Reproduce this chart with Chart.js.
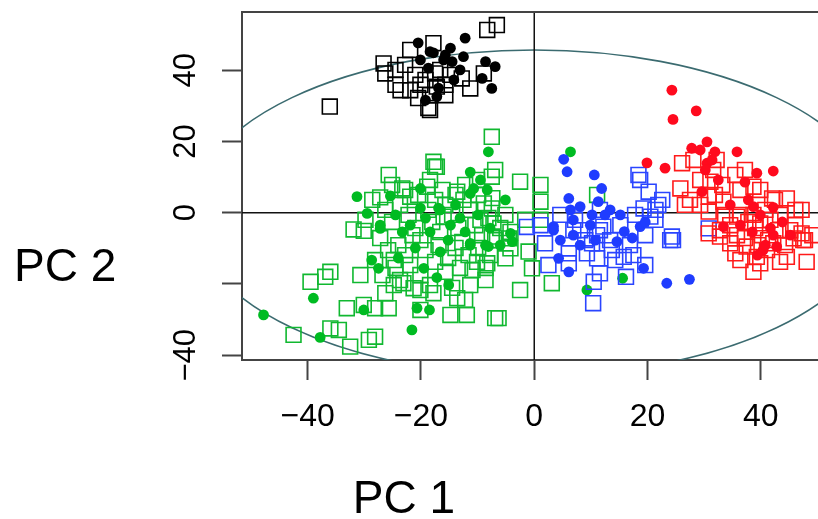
<!DOCTYPE html>
<html>
<head>
<meta charset="utf-8">
<script src="https://cdn.jsdelivr.net/npm/chart.js@4.4.1/dist/chart.umd.min.js"></script>
<style>
  body { margin: 0; background: #fff; }
  canvas { display: block; }
</style>
</head>
<body>
<canvas id="pca" width="818" height="519"></canvas>
<script>
// PC1 / PC2 scores
var xTicks = [-40, -20, 0, 20, 40];
var yTicks = [-40, -20, 0, 20, 40];
var yTickLabels = [40, 20, 0, -40];

var blackSquares = [[-36.1,29.8],[-26.6,41.9],[-26.3,39.1],[-23.6,34.4],[-21.9,45.7],[-20.5,32.2],[-18.7,29.4],[-17.8,47.6],[-8.3,51.3],[-6.6,52.7],[-8.9,39.1],[-12.8,37.7],[-11.3,34.9],[-15.7,33.0],[-17.5,39.1],[-18.4,28.8],[-17.2,35.4],[-24.5,40.1],[-22.8,41.5],[-21.0,38.7],[-19.2,37.3],[-16.6,40.1],[-20.1,35.9],[-21.9,34.4],[-18.4,33.0],[-24.5,35.9],[-15.7,35.9],[-14.8,38.7]];
var blackCircles = [[-20.5,47.7],[-18.4,45.2],[-12.2,49.0],[-14.8,46.2],[-17.8,44.9],[-12.5,43.8],[-14.5,42.4],[-16.0,42.9],[-8.6,42.4],[-6.9,41.0],[-9.2,37.7],[-14.2,37.3],[-7.5,34.9],[-17.2,32.6],[-20.1,42.9],[-18.7,40.6],[-15.7,44.3],[-13.1,40.1],[-16.9,35.0],[-19.2,31.6]];

var greenSquares = [[-25.7,10.6],[-27.2,4.3],[-23.3,6.8],[-17.8,14.3],[-17.5,12.9],[-18.9,7.3],[-21.9,4.5],[-31.9,-4.7],[-30.1,-5.1],
  [-7.5,21.3],[-17.2,12.9],[-6.9,12.0],[-7.5,10.1],[-2.5,8.7],[1.1,7.8],[1.1,3.1],[-10.1,9.2],[-13.6,5.9],[-17.5,3.6],[-8.9,2.6],[-7.5,1.2],[-12.5,3.6],[-1.6,-2.0],[-16.0,-1.1],[-9.5,-2.0],[-7.2,-3.0],[1.1,-2.0],[11.1,5.0],
  [-1.0,-10.9],[-0.4,-15.6],[3.1,-19.8],[-2.5,-21.7],[-6.9,-29.6],[-6.3,-29.6],[-8.6,-18.9],[-11.9,-28.7],[-14.8,-28.7],[-13.6,-24.0],[-12.2,-24.5],[-5.1,-12.8],[-4.2,-10.0],[-4.5,-7.2],[-8.3,-14.2],[-10.1,-13.8],[-7.5,-6.7],[-17.8,-22.6],
  [-39.5,-19.4],[-36.9,-18.0],[-36.0,-16.6],[-30.7,-17.5],[-42.5,-34.3],[-34.5,-32.9],[-36.0,-32.5],[-32.5,-37.6],[-29.2,-35.7],[-28.1,-34.8],[-33.1,-26.8],[-30.1,-25.9],[-28.1,-26.8],[-25.7,-26.8],[-26.3,-22.6],[-24.8,-20.3],[-23.1,-19.8],[-21.3,-21.2],[-20.1,-21.7],[-20.1,-27.3],[-24.8,-13.3],
  [-28.6,3.6],[-26.3,0.8],[-25.1,-2.6],[-23.7,2.2],[-22.2,-0.6],[-21.0,-4.3],[-20.1,-7.7],[-18.7,0.8],[-18.0,-2.6],[-16.6,-5.4],[-15.7,2.2],[-14.5,-0.6],[-13.4,-4.3],[-12.7,-8.2],[-11.3,0.8],[-10.4,-3.5],[-9.2,-6.3],[-8.1,-1.5],[-6.9,-7.7],[-6.0,-4.3],
  [-24.0,-9.1],[-22.8,-11.9],[-21.5,-6.3],[-19.2,-10.5],[-16.9,-9.1],[-15.2,-12.7],[-13.9,-9.9],[-11.6,-11.9],[-9.9,-9.9],[-7.8,-11.9],[-27.2,-7.1],[-25.8,-10.5],[-29.8,-2.0],[-28.1,-13.3],[-24.5,-15.5],[-21.9,-14.7],[-17.5,-13.8],[-15.7,-16.6],[-13.1,-15.5],[-10.9,-16.1],[-8.6,-15.5],
  [-25.1,7.8],[-22.8,6.4],[-20.5,5.0],[-18.4,9.2],[-16.2,6.4],[-13.9,5.0],[-12.2,7.8],[-9.9,5.0],[-7.4,4.1],[-5.1,-0.6],[-4.2,-5.4],[-20.1,-17.5],[-18.4,-20.3],[-11.3,-20.3],[-14.5,-21.1],[-23.7,-18.9],[-26.8,-17.5]];
var greenCircles = [[-31.3,4.5],[-29.5,-0.2],[-20.1,6.8],[-27.2,-4.4],
  [-8.1,17.1],[-10.7,6.8],[-8.3,6.4],[-11.3,5.4],[-16.6,0.8],[-4.2,-5.8],[6.4,17.1],
  [-15.1,-20.3],[-17.2,-18.2],[-18.5,-27.3],[-3.9,-8.1],[-8.1,-9.5],[-11.3,-8.6],[9.3,-21.7],[15.6,-18.4],
  [-47.8,-28.7],[-39.0,-24.0],[-37.8,-35.0],[-30.1,-27.3],[-21.6,-32.9],[-20.7,-26.8],[-27.5,-15.6],[-28.7,-13.3],[-19.5,-15.6],
  [-24.5,-0.6],[-21.9,-3.5],[-19.2,-1.5],[-16.9,1.3],[-14.8,-3.5],[-12.2,-5.4],[-9.9,-0.6],[-7.8,-4.3],[-13.9,2.2],[-16.6,-11.0],[-21.0,-9.9],[-23.3,-5.4],[-11.3,-9.1],[-8.6,-9.1],[-18.4,-5.4],[-20.1,1.3],[-13.1,-1.5],[-24.0,-12.7],[-15.2,-7.7],[-6.0,-9.1],[-5.1,3.6],[-9.5,9.2],[-11.3,11.4],[-25.4,4.7],[-27.2,-3.5]];

var blueSquares = [[-1.3,-4.0],[6.9,-4.9],[12.2,-3.9],[11.1,-6.3],[18.4,10.6],[20.2,5.9],[19.3,1.2],[21.9,2.2],[20.5,-1.1],[24.3,-6.7],[30.8,-4.4],[1.9,-8.6],[2.5,-14.7],[6.1,-11.4],[6.1,-14.2],[9.3,-11.4],[10.2,-8.6],[11.6,-17.0],[10.5,-19.4],[10.4,-25.4],[11.1,-12.8],[13.7,-10.5],[15.8,-12.4],[16.2,-18.0],[24.5,-7.7],[19.6,-14.7],[17.5,-11.9],
  [1.1,-3.5],[4.6,-0.6],[7.2,-2.0],[9.0,-7.7],[11.6,-4.9],[13.4,-7.7],[15.2,-3.5],[17.8,-0.6],[19.6,-6.3],[21.4,0.8],[22.6,3.6],[24.0,-7.7],[18.7,9.2],[21.4,-2.0],[16.9,-9.1],[14.3,-13.3],[11.6,0.8],[8.1,-4.9]];
var blueCircles = [[5.2,15.0],[5.8,11.5],[10.6,10.6],[11.9,6.8],[6.1,4.0],[11.3,3.1],[8.1,1.7],[6.4,0.8],[13.4,0.8],[10.2,-0.6],[3.4,-3.9],[6.9,-2.0],[15.9,-5.3],[18.7,-3.9],[4.3,-12.8],[6.1,-16.6],[6.9,-6.3],[14.6,-8.1],[3.4,-4.9],[23.4,-19.8],[27.4,-18.7],[19.3,-15.6],
  [9.9,-3.5],[12.5,-0.6],[10.8,-7.7],[15.2,-0.6],[17.3,-7.1],[19.6,-2.6],[8.1,-9.1],[4.6,-7.7]];

var redSquares = [[26.1,13.9],[28.1,14.8],[32.2,14.8],[31.6,12.0],[35.5,10.6],[37.2,12.0],[38.7,7.3],[25.8,6.8],[31.1,8.7],[26.6,2.2],[30.8,4.5],[33.4,3.1],[42.0,4.0],[44.6,4.0],[47.2,0.8],[30.8,0.3],[35.8,-1.1],[38.7,-0.6],[39.9,-3.0],[45.2,-4.9],[47.2,-5.8],[32.8,-4.9],[35.8,-6.3],[30.8,-5.8],[32.8,-6.7],[35.5,-11.4],[36.4,-13.3],[38.7,-16.6],[39.3,-12.4],[41.1,-10.5],[43.4,-13.8],[44.6,-12.4],[48.1,-13.8],[47.5,-7.7],[45.8,-7.2],[37.5,-9.5],[42.2,-8.6],[34.6,-8.6],[39.9,-14.2],
  [36.4,-0.6],[37.8,-2.6],[39.0,-4.3],[40.2,-6.3],[41.7,-2.0],[43.1,-4.9],[37.2,-7.1],[39.5,-9.1],[41.3,-7.7],[44.3,-9.1],[46.1,-3.5],[43.4,-0.6],[40.8,0.8],[33.7,-0.6],[34.6,-3.5],[31.9,5.0],[29.3,2.2],[27.5,3.6],[29.3,9.2],[33.2,7.8],[36.4,6.4],[39.9,6.4],[42.5,3.6],[46.1,0.8],[47.8,-7.7],[49.1,-6.3]];
var redCircles = [[24.3,34.4],[28.6,28.6],[24.5,26.2],[27.8,18.1],[30.5,19.9],[31.9,17.1],[35.8,17.1],[19.9,14.0],[23.1,12.5],[30.5,13.9],[30.2,12.0],[39.3,11.1],[42.2,11.7],[29.6,5.9],[38.7,1.7],[42.2,1.5],[33.4,-3.9],[42.2,-6.3],[40.4,-10.5],[42.8,-9.5],
  [37.8,3.6],[39.9,-0.6],[41.7,-4.3],[38.5,-5.4],[43.8,-2.6],[36.4,-3.5],[40.8,-9.1],[39.4,-11.9],[45.2,-6.3],[34.6,2.2],[32.5,9.2],[31.4,14.8],[29.3,17.6],[37.2,8.6]];

// confidence ellipse half-axes (PC1, PC2)
var ellipseAxes = [60.5, 45.7];

var fontFamily = '"Liberation Sans", Arial, sans-serif';

function toPoints(arr) {
  return arr.map(function (p) { return { x: p[0], y: p[1] }; });
}

function squares(label, arr, color) {
  return {
    label: label, data: toPoints(arr),
    pointStyle: 'rect', pointRadius: 10.5,
    backgroundColor: 'rgba(0,0,0,0)', borderColor: color, borderWidth: 1.6
  };
}

function circles(label, arr, color) {
  return {
    label: label, data: toPoints(arr),
    pointStyle: 'circle', pointRadius: 5.4,
    backgroundColor: color, borderColor: color, borderWidth: 0
  };
}

var decor = {
  id: 'decor',
  beforeDatasetsDraw: function (chart) {
    var ctx = chart.ctx, a = chart.chartArea;
    var xs = chart.scales.x, ys = chart.scales.y;
    var cx = xs.getPixelForValue(0), cy = ys.getPixelForValue(0);
    ctx.save();
    ctx.beginPath();
    ctx.rect(a.left, a.top, a.right - a.left, a.bottom - a.top);
    ctx.clip();
    ctx.strokeStyle = '#3b6b70';
    ctx.lineWidth = 1.6;
    ctx.beginPath();
    ctx.ellipse(cx, cy, xs.getPixelForValue(ellipseAxes[0]) - cx, cy - ys.getPixelForValue(ellipseAxes[1]), 0, 0, Math.PI * 2);
    ctx.stroke();
    ctx.strokeStyle = '#111';
    ctx.lineWidth = 1.5;
    ctx.beginPath();
    ctx.moveTo(a.left, cy); ctx.lineTo(a.right, cy);
    ctx.moveTo(cx, a.top); ctx.lineTo(cx, a.bottom);
    ctx.stroke();
    ctx.restore();
  },
  afterDraw: function (chart) {
    var ctx = chart.ctx, a = chart.chartArea;
    var ys = chart.scales.y;
    ctx.save();
    ctx.strokeStyle = '#444';
    ctx.lineWidth = 2;
    ctx.beginPath();
    ctx.moveTo(a.left - 1, a.top); ctx.lineTo(a.right, a.top);
    ctx.stroke();

    ctx.fillStyle = '#000';
    ctx.font = '31px ' + fontFamily;
    ctx.textAlign = 'center';
    ctx.textBaseline = 'alphabetic';
    yTickLabels.forEach(function (v) {
      ctx.save();
      ctx.translate(a.left - 47, ys.getPixelForValue(v));
      ctx.rotate(-Math.PI / 2);
      ctx.fillText(String(v).replace('-', '\u2212'), 0, 0);
      ctx.restore();
    });

    ctx.font = '46px ' + fontFamily;
    ctx.textAlign = 'left';
    ctx.fillText('PC 2', 14, 281);
    ctx.textAlign = 'center';
    ctx.fillText('PC 1', 404, 513);
    ctx.restore();
  }
};

new Chart(document.getElementById('pca'), {
  type: 'scatter',
  data: {
    datasets: [
      circles('black', blackCircles, '#000000'),
      squares('black', blackSquares, '#000000'),
      circles('red', redCircles, '#ff0a1e'),
      squares('red', redSquares, '#ff1a1a'),
      circles('blue', blueCircles, '#1f3cff'),
      squares('blue', blueSquares, '#2a45ff'),
      circles('green', greenCircles, '#00bb22'),
      squares('green', greenSquares, '#10b830')
    ]
  },
  options: {
    responsive: false,
    animation: false,
    devicePixelRatio: 1,
    layout: { autoPadding: false, padding: { top: 12, right: 0, left: 0, bottom: 0 } },
    plugins: { legend: { display: false }, tooltip: { enabled: false } },
    scales: {
      x: {
        type: 'linear', position: 'bottom', min: -51.6, max: 50.1,
        afterBuildTicks: function (s) { s.ticks = xTicks.map(function (v) { return { value: v }; }); },
        afterFit: function (s) { s.height = 159; s.paddingLeft = 0; s.paddingRight = 0; },
        grid: { drawOnChartArea: false, drawTicks: true, tickLength: 20, tickColor: '#444', tickWidth: 2 },
        border: { display: true, color: '#444', width: 2 },
        ticks: {
          autoSkip: false, maxRotation: 0, padding: 18, color: '#000',
          font: { size: 32, family: fontFamily },
          callback: function (v) { return String(v).replace('-', '\u2212'); }
        }
      },
      y: {
        type: 'linear', position: 'left', min: -41.35, max: 56.35,
        afterBuildTicks: function (s) { s.ticks = yTicks.map(function (v) { return { value: v }; }); },
        afterFit: function (s) { s.width = 242; s.paddingTop = 0; s.paddingBottom = 0; },
        grid: { drawOnChartArea: false, drawTicks: true, tickLength: 20, tickColor: '#444', tickWidth: 2 },
        border: { display: true, color: '#444', width: 2 },
        ticks: { display: false }
      }
    }
  },
  plugins: [decor]
});
</script>
</body>
</html>
